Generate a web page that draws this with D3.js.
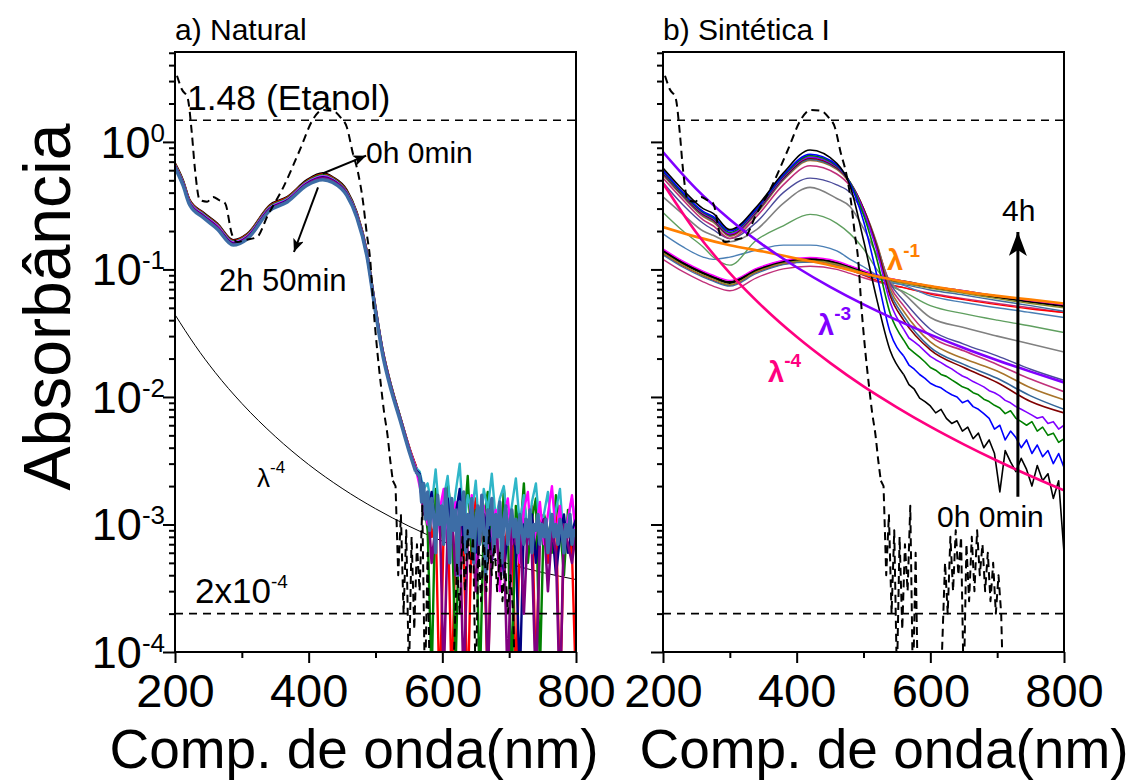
<!DOCTYPE html>
<html>
<head>
<meta charset="utf-8">
<script src="https://cdn.jsdelivr.net/npm/d3@7"></script>
<style>
  body { margin: 0; background: #fff; }
  text { font-family: "Liberation Sans", Arial, sans-serif; fill: #000; }
</style>
</head>
<body>
<svg width="1136" height="783"></svg>
<script>
// ---------- data ----------
const xDomain = [200, 800]
const yDomain = [1e-4, 5.07]
const xMajor = [200, 400, 600, 800]
const xMinor = [300, 500, 700]
const yMajorExp = [0, -1, -2, -3, -4]
const refLevels = [1.48, 2e-4]

// dashed reference spectrum (same in both panels)
const refLambda = [203, 210, 219, 225, 230, 237, 248, 257, 266, 275, 285, 293, 305, 323, 338, 362, 387, 406, 421, 436, 448, 457, 466, 474, 481, 487, 492, 497, 503, 508, 513, 518, 522, 526]
const refAbs = [3.3, 2.6, 2.2, 1.2, 0.60, 0.35, 0.34, 0.37, 0.35, 0.33, 0.19, 0.164, 0.17, 0.18, 0.26, 0.44, 0.87, 1.49, 1.78, 1.76, 1.55, 1.31, 0.82, 0.57, 0.35, 0.19, 0.12, 0.05, 0.022, 0.0125, 0.0075, 0.005, 0.0032, 0.0022]
const refNoiseLambda = d3.range(530, 711, 4)
const refNoiseAbs = [.0020, .0004, .0012, .0002, .0009, .00006, .0008, .00015, .0007, .0003,
  .0014, .00005, .0006, .00003, .00003, .00003, .00003, .00003, .00003, .00003,
  .00003, .00003, .00012, .0005, .0002, .0008, .0003, .0009, .0004, .0008,
  .00005, .0007, .00025, .0008, .0003, .0009, .0004, .0007, .0003, .0006,
  .00025, .0005, .0002, .0004, .0002, .00003]

// panel a: Natural
const aLambdaUV = [200, 212, 222, 242, 263, 287, 308, 342, 368, 397, 421, 436, 457, 472, 487, 499, 511, 524, 537, 552, 560]
const aLambdaTail = d3.range(566, 801, 6)
const aLambdaTailFine = d3.range(566, 801, 3)
const aBlackUV = [0.68, 0.50, 0.35, 0.28, 0.23, 0.170, 0.190, 0.32, 0.37, 0.50, 0.57, 0.53, 0.42, 0.28, 0.140, 0.055, 0.023, 0.0120, 0.0070, 0.0038, 0.0029]
const aRedUV = [0.67, 0.49, 0.345, 0.275, 0.226, 0.167, 0.187, 0.315, 0.365, 0.49, 0.555, 0.52, 0.41, 0.275, 0.138, 0.054, 0.0228, 0.0118, 0.0069, 0.0038, 0.0029]
const aGreenUV = [0.66, 0.485, 0.34, 0.272, 0.223, 0.165, 0.185, 0.31, 0.36, 0.485, 0.548, 0.515, 0.405, 0.272, 0.136, 0.0535, 0.0226, 0.0117, 0.0069, 0.0037, 0.0028]
const aCyanUV = [0.655, 0.48, 0.337, 0.27, 0.221, 0.164, 0.183, 0.307, 0.356, 0.48, 0.54, 0.51, 0.40, 0.27, 0.135, 0.053, 0.0224, 0.0116, 0.0068, 0.0037, 0.0028]
const aMagentaUV = [0.65, 0.475, 0.334, 0.267, 0.219, 0.162, 0.181, 0.303, 0.352, 0.475, 0.535, 0.505, 0.397, 0.267, 0.134, 0.0525, 0.0222, 0.0115, 0.0068, 0.0037, 0.0028]
const aNavyUV = [0.645, 0.47, 0.33, 0.264, 0.216, 0.160, 0.179, 0.30, 0.348, 0.47, 0.528, 0.50, 0.393, 0.264, 0.132, 0.052, 0.022, 0.0114, 0.0067, 0.0036, 0.0027]
const aPurpleUV = [0.64, 0.465, 0.327, 0.261, 0.214, 0.158, 0.177, 0.296, 0.344, 0.465, 0.52, 0.495, 0.389, 0.261, 0.131, 0.0515, 0.0218, 0.0113, 0.0067, 0.0036, 0.0027]
const aSteelUV = [0.63, 0.455, 0.32, 0.255, 0.208, 0.155, 0.173, 0.29, 0.338, 0.455, 0.505, 0.48, 0.38, 0.255, 0.128, 0.050, 0.021, 0.011, 0.0065, 0.0035, 0.0026]

const aBlackTail = [.0023, .0017, .0013, .0016, .0010, .0012, .0008, .0014, .0009, .0011, .0006, .0013, .0009, .0007, .0012, .0008, .0010, .0005, .0011, .0008, .0012, .0006, .0009, .0010, .0005, .0011, .0007, .0009, .0012, .0006, .0008, .0010, .0007, .0011, .0005, .0009, .0008, .0010, .0006, .0009]
const aRedTail = [.0022, .0013, .0017, .0008, .0011, .00004, .0009, .0014, .00005, .0008, .0012, .0006, .00004, .0010, .0016, .0007, .0009, .00005, .0012, .0008, .0015, .0006, .0010, .0013, .00005, .0009, .0011, .0007, .0014, .00006, .0010, .0012, .0005, .0009, .0013, .00004, .0008, .0010, .0006, .00005]
const aGreenTail = [.0024, .0016, .0009, .00006, .0019, .0011, .0007, .0021, .0012, .00008, .0015, .0009, .0024, .0006, .0013, .00005, .0011, .0018, .0007, .0012, .0004, .0019, .0009, .00006, .0014, .0008, .0021, .0005, .0011, .0016, .00007, .0012, .0009, .0006, .0017, .0010, .0004, .0013, .0007, .0011]
const aCyanTail = [.0026, .0019, .0021, .0014, .0027, .0011, .0016, .0024, .0010, .0018, .0030, .0009, .0017, .0012, .0022, .0008, .0019, .0013, .0025, .0011, .0016, .0020, .0009, .0014, .0023, .0010, .0017, .0007, .0015, .0021, .0009, .0012, .0018, .0008, .0013, .0019, .0007, .0011, .0016, .0009]
const aMagentaTail = [.0020, .0014, .0010, .0016, .0007, .0013, .0019, .0006, .0011, .0015, .0004, .0012, .0008, .0017, .0005, .0010, .0014, .0006, .0009, .0013, .0003, .0011, .0016, .0007, .0010, .0005, .0013, .0018, .0006, .0009, .0015, .0007, .0012, .0020, .0008, .0014, .0006, .0011, .0017, .0008]
const aNavyTail = [.0025, .0017, .0012, .0018, .0009, .0014, .0011, .0016, .0008, .0012, .0019, .0007, .0010, .0014, .0006, .0011, .0009, .0013, .0005, .0010, .0012, .0004, .0009, .0011, .0006, .00006, .0010, .0008, .0012, .0005, .0009, .0011, .0007, .0010, .0004, .0008, .0012, .0006, .0009, .0011]
const aPurpleTail = [.0023, .0012, .0015, .0005, .0010, .0013, .00006, .0009, .0012, .0004, .0010, .00005, .0008, .0011, .0003, .0009, .0012, .00006, .0007, .0010, .0004, .0008, .00005, .0011, .0007, .0009, .0002, .0010, .0006, .00005, .0008, .0011, .0003, .0009, .0006, .00004, .0010, .0007, .0005, .0009]
const aSteelTail = [.0024, .0015, .0021, .0011, .0018, .0009, .0016, .0012, .0006, .0017, .0010, .0014,
  .0007, .0019, .0011, .0005, .0016, .0009, .0013, .0004, .0015, .0010, .0018, .0006, .0012, .0008, .0016, .0005, .0011,
  .0014, .0007, .0017, .0009, .0004, .0013, .0010, .0016, .0006, .0012, .0008, .0015, .0005, .0011, .0014, .0007, .0010, .0013,
  .0008, .0011, .0006, .0012, .0009, .0007, .0011, .0008, .0013, .0006, .0010, .0009, .0012, .0007, .0010, .0008,
  .0011, .0006, .0009, .0012, .0008, .0010, .0007, .0011, .0009, .0006, .0010, .0008, .0012, .0007, .0009, .0008]

// thin lambda^-4 guide in panel a
const aFitLambda = [200, 230, 260, 300, 350, 400, 450, 500, 550, 600, 650, 700, 750, 800]
const aFitAbs = [0.0442, 0.0254, 0.0156, 0.0089, 0.0049, 0.00295, 0.00192, 0.00133, 0.00097, 0.00074, 0.00059, 0.00049, 0.00042, 0.00037]

// panel b: Sintetica I
const bLambdaUV = [200, 230, 260, 275, 300, 340, 380, 420, 460, 480, 500, 520, 540, 560]
const bLambdaTailSmooth = [600, 650, 700, 750, 800]
const bLambdaTailNoisy = d3.range(568, 801, 8)

const b0hUV = [0.625, 0.42, 0.30, 0.275, 0.205, 0.31, 0.57, 0.865, 0.68, 0.45, 0.17, 0.058, 0.023, 0.015]
const b0hTail = [0.0125, 0.0115, 0.0098, 0.0092, 0.0085, 0.0075, 0.0080, 0.0068, 0.0062, 0.0065, 0.0054, 0.0058, 0.0047, 0.0052, 0.0040, 0.0046, 0.0036, 0.0018, 0.0038, 0.0031, 0.0026, 0.0033, 0.0027, 0.0020, 0.0029, 0.0022, 0.0025, 0.0016, 0.0022, 0.0006]
const bBlueUV = [0.60, 0.40, 0.285, 0.26, 0.20, 0.30, 0.55, 0.80, 0.66, 0.47, 0.24, 0.09, 0.032, 0.021]
const bBlueTail = [0.0178, 0.0165, 0.0150, 0.0140, 0.0128, 0.0122, 0.0118, 0.0110, 0.0104, 0.0100, 0.0090, 0.0094, 0.0084, 0.0080, 0.0074, 0.0068, 0.0056, 0.0060, 0.0046, 0.0054, 0.0048, 0.0040, 0.0046, 0.0036, 0.0042, 0.0034, 0.0038, 0.0030, 0.0036, 0.0028]
const bGreenUV = [0.59, 0.39, 0.28, 0.255, 0.195, 0.295, 0.54, 0.78, 0.65, 0.48, 0.27, 0.12, 0.045, 0.028]
const bGreenTail = [0.0240, 0.0222, 0.0205, 0.0188, 0.0170, 0.0162, 0.0150, 0.0145, 0.0136, 0.0128, 0.0120, 0.0116, 0.0108, 0.0104, 0.0096, 0.0092, 0.0086, 0.0082, 0.0074, 0.0078, 0.0068, 0.0064, 0.0060, 0.0064, 0.0054, 0.0058, 0.0050, 0.0052, 0.0044, 0.0047]
const bVioletUV = [0.58, 0.385, 0.275, 0.25, 0.19, 0.29, 0.53, 0.76, 0.64, 0.48, 0.29, 0.14, 0.055, 0.034]
const bVioletTail = [0.0290, 0.0270, 0.0250, 0.0228, 0.0208, 0.0196, 0.0186, 0.0175, 0.0166, 0.0155, 0.0146, 0.0140, 0.0132, 0.0126, 0.0120, 0.0112, 0.0108, 0.0102, 0.0094, 0.0090, 0.0084, 0.0080, 0.0076, 0.0072, 0.0068, 0.0070, 0.0062, 0.0064, 0.0056, 0.0060]
const bMaroonUV = [0.57, 0.38, 0.27, 0.245, 0.187, 0.285, 0.52, 0.745, 0.63, 0.48, 0.30, 0.15, 0.062, 0.040]
const bMaroonTail = [0.0234, 0.017, 0.013, 0.0092, 0.0075]
const bSteelUV = [0.56, 0.375, 0.265, 0.24, 0.185, 0.28, 0.51, 0.73, 0.62, 0.48, 0.30, 0.155, 0.066, 0.043]
const bSteelTail = [0.0245, 0.018, 0.014, 0.0102, 0.0080]
const bBrownUV = [0.55, 0.37, 0.26, 0.235, 0.182, 0.275, 0.50, 0.715, 0.61, 0.47, 0.30, 0.16, 0.07, 0.047]
const bBrownTail = [0.027, 0.020, 0.016, 0.0118, 0.0095]
const bRoseUV = [0.52, 0.35, 0.245, 0.22, 0.175, 0.26, 0.46, 0.65, 0.56, 0.45, 0.29, 0.155, 0.074, 0.052]
const bRoseTail = [0.030, 0.023, 0.018, 0.0138, 0.011]
const bSlateUV = [0.48, 0.32, 0.23, 0.205, 0.175, 0.235, 0.40, 0.52, 0.46, 0.40, 0.27, 0.15, 0.078, 0.057]
const bSlateTail = [0.034, 0.026, 0.021, 0.0165, 0.0135]
const bGrayUV = [0.37, 0.27, 0.20, 0.185, 0.165, 0.205, 0.33, 0.44, 0.36, 0.31, 0.21, 0.13, 0.08, 0.065]
const bGrayTail = [0.042, 0.035, 0.030, 0.026, 0.0225]
const bSageUV = [0.28, 0.20, 0.15, 0.125, 0.108, 0.17, 0.22, 0.27, 0.23, 0.19, 0.145, 0.10, 0.075, 0.067]
const bSageTail = [0.052, 0.045, 0.040, 0.036, 0.032]
const bSteel2UV = [0.19, 0.15, 0.125, 0.12, 0.125, 0.142, 0.155, 0.155, 0.14, 0.12, 0.105, 0.09, 0.08, 0.075]
const bSteel2Tail = [0.062, 0.055, 0.05, 0.046, 0.042]
const bRose4hUV = [0.12, 0.096, 0.08, 0.074, 0.068, 0.086, 0.101, 0.106, 0.10, 0.093, 0.086, 0.080, 0.075, 0.072]
const bRose4hTail = [0.065, 0.059, 0.054, 0.050, 0.046]
const bRed4hUV = [0.133, 0.106, 0.089, 0.082, 0.075, 0.095, 0.11, 0.115, 0.108, 0.099, 0.09, 0.082, 0.076, 0.072]
const bRed4hTail = [0.064, 0.058, 0.053, 0.049, 0.046]
const bSteel4hUV = [0.13, 0.104, 0.087, 0.081, 0.074, 0.093, 0.109, 0.114, 0.107, 0.099, 0.091, 0.085, 0.079, 0.076]
const bSteel4hTail = [0.069, 0.063, 0.057, 0.052, 0.047]
const bOlive4hUV = [0.135, 0.108, 0.09, 0.084, 0.076, 0.096, 0.112, 0.117, 0.11, 0.102, 0.094, 0.087, 0.081, 0.078]
const bOlive4hTail = [0.071, 0.065, 0.059, 0.054, 0.050]
const bMagenta4hUV = [0.145, 0.116, 0.097, 0.09, 0.082, 0.102, 0.118, 0.124, 0.116, 0.107, 0.098, 0.091, 0.085, 0.081]
const bMagenta4hTail = [0.074, 0.068, 0.062, 0.057, 0.053]
const bBlack4hUV = [0.14, 0.112, 0.094, 0.087, 0.079, 0.099, 0.115, 0.12, 0.112, 0.104, 0.096, 0.089, 0.083, 0.080]
const bBlack4hTail = [0.073, 0.067, 0.061, 0.056, 0.052]

const bFitLambda = [200, 250, 300, 350, 400, 450, 500, 550, 600, 650, 700, 750, 800]
const bFitL1 = [0.215, 0.18, 0.155, 0.138, 0.122, 0.108, 0.093, 0.082, 0.074, 0.067, 0.062, 0.058, 0.054]
const bFitL3 = [0.832, 0.426, 0.2465, 0.155, 0.104, 0.073, 0.0532, 0.040, 0.0308, 0.0242, 0.0194, 0.0158, 0.013]
const bFitL4 = [0.474, 0.194, 0.0936, 0.0505, 0.0296, 0.0185, 0.0121, 0.0083, 0.00585, 0.00425, 0.00316, 0.0024, 0.00185]

// ---------- layout ----------
const plotTop = 52, plotBottom = 652
const svg = d3.select('svg')
const y = d3.scaleLog().domain(yDomain).range([plotBottom, plotTop])

const pair = (ls, vs) => ls.map((l, i) => [l, vs[i]])

function makePanel(id, left, right) {
  const x = d3.scaleLinear().domain(xDomain).range([left, right])
  svg.append('clipPath').attr('id', 'clip-' + id)
    .append('rect').attr('x', left).attr('y', plotTop)
    .attr('width', right - left).attr('height', plotBottom - plotTop)
  const plot = svg.append('g').attr('clip-path', 'url(#clip-' + id + ')')
  const smooth = d3.line().x(d => x(d[0])).y(d => y(d[1])).curve(d3.curveMonotoneX)
  const jagged = d3.line().x(d => x(d[0])).y(d => y(d[1]))
  return { id, left, right, x, plot, smooth, jagged }
}

function drawPath(p, d, color, w, dash) {
  p.plot.append('path')
    .attr('d', d)
    .attr('fill', 'none')
    .attr('stroke', color)
    .attr('stroke-width', w)
    .attr('stroke-linejoin', 'round')
    .attr('stroke-dasharray', dash || null)
}

// smooth UV part, then either a smooth or a noisy (straight segments) tail
function drawSpectrum(p, lu, vu, lt, vt, noisy, color, w, dash) {
  const uv = pair(lu, vu), tail = pair(lt, vt)
  if (noisy) {
    drawPath(p, p.smooth(uv), color, w, dash)
    drawPath(p, p.jagged([uv[uv.length - 1]].concat(tail)), color, w, dash)
  } else {
    drawPath(p, p.smooth(uv.concat(tail)), color, w, dash)
  }
}

function drawRefLines(p) {
  refLevels.forEach(v => {
    p.plot.append('line')
      .attr('x1', p.left).attr('x2', p.right)
      .attr('y1', y(v)).attr('y2', y(v))
      .attr('stroke', '#000').attr('stroke-width', 1.6)
      .attr('stroke-dasharray', '8,6')
  })
  drawSpectrum(p, refLambda, refAbs, refNoiseLambda, refNoiseAbs, true, '#000', 2, '8,5')
}

function drawAxes(p, withLabels) {
  const yMinor = []
  yMajorExp.forEach(e => {
    for (let m = 2; m <= 9; m++) {
      const v = m * Math.pow(10, e)
      if (v <= yDomain[1]) yMinor.push(v)
    }
  })
  const ax = svg.append('g')
  ax.append('g').attr('transform', 'translate(0,' + plotBottom + ')')
    .call(d3.axisBottom(p.x).tickValues(xMajor).tickSize(11).tickSizeOuter(0).tickFormat(d3.format('d')))
  ax.append('g').attr('transform', 'translate(0,' + plotBottom + ')')
    .call(d3.axisBottom(p.x).tickValues(xMinor).tickSize(6).tickSizeOuter(0).tickFormat(''))
  ax.append('g').attr('transform', 'translate(' + p.left + ',0)')
    .call(d3.axisLeft(y).tickValues(yMajorExp.map(e => Math.pow(10, e))).tickSize(12).tickSizeOuter(0).tickFormat(''))
  ax.append('g').attr('transform', 'translate(' + p.left + ',0)')
    .call(d3.axisLeft(y).tickValues(yMinor).tickSize(6).tickSizeOuter(0).tickFormat(''))
  ax.selectAll('.domain').remove()
  ax.selectAll('.tick line').attr('stroke', '#000').attr('stroke-width', 2)
  ax.selectAll('.tick text')
    .attr('y', 55).attr('dy', null)
    .attr('font-size', 47).attr('font-family', '"Liberation Sans", Arial, sans-serif')
    .attr('fill', '#000')

  svg.append('rect')
    .attr('x', p.left).attr('y', plotTop)
    .attr('width', p.right - p.left).attr('height', plotBottom - plotTop)
    .attr('fill', 'none').attr('stroke', '#000').attr('stroke-width', 2)

  if (withLabels) {
    yMajorExp.forEach(e => {
      const t = svg.append('text')
        .attr('x', p.left - 10).attr('y', y(Math.pow(10, e)) + 16)
        .attr('text-anchor', 'end').attr('font-size', 45)
      t.append('tspan').text('10')
      t.append('tspan').attr('font-size', 26).attr('dy', -16).text(String(e))
    })
  }
}

function superLabel(x, yy, base, sup, size, supSize, rise, color, bold) {
  const t = svg.append('text').attr('x', x).attr('y', yy)
    .attr('font-size', size).style('fill', color)
    .attr('font-weight', bold ? 'bold' : null)
  t.append('tspan').text(base)
  t.append('tspan').attr('font-size', supSize).attr('dy', -rise).text(sup)
  return t
}

function plainLabel(x, yy, s, size, anchor) {
  return svg.append('text').attr('x', x).attr('y', yy)
    .attr('font-size', size).attr('text-anchor', anchor || 'start').text(s)
}

// arrow heads
const defs = svg.append('defs')
function arrowMarker(id, len, wid) {
  defs.append('marker').attr('id', id)
    .attr('markerUnits', 'userSpaceOnUse')
    .attr('viewBox', '0 0 ' + len + ' ' + wid)
    .attr('markerWidth', len).attr('markerHeight', wid)
    .attr('refX', len).attr('refY', wid / 2)
    .attr('orient', 'auto')
    .append('path').attr('d', 'M0,0 L' + len + ',' + (wid / 2) + ' L0,' + wid + ' L' + (len * 0.25) + ',' + (wid / 2) + ' Z')
    .attr('fill', '#000')
}
arrowMarker('headSmall', 13, 11)
arrowMarker('headBig', 24, 18)

function arrow(p, from, to, w, head) {
  svg.append('line')
    .attr('x1', p.x(from[0])).attr('y1', y(from[1]))
    .attr('x2', p.x(to[0])).attr('y2', y(to[1]))
    .attr('stroke', '#000').attr('stroke-width', w)
    .attr('marker-end', 'url(#' + head + ')')
}

// ---------- panel a ----------
const pa = makePanel('a', 175, 576)
drawPath(pa, pa.smooth(pair(aFitLambda, aFitAbs)), '#000', 1)
const aSeries = [
  [aBlackUV, aBlackTail, '#000000', 2.2],
  [aRedUV, aRedTail, '#ff0000', 2.4],
  [aGreenUV, aGreenTail, '#008000', 2.4],
  [aCyanUV, aCyanTail, '#2fb6c8', 2.4],
  [aMagentaUV, aMagentaTail, '#ff00ff', 2.4],
  [aNavyUV, aNavyTail, '#000080', 2.4],
  [aPurpleUV, aPurpleTail, '#800080', 2.6],
  [aSteelUV, aSteelTail, '#3d6da6', 3.4]
]
aSeries.forEach(s => {
  const tl = s[1].length === aLambdaTailFine.length ? aLambdaTailFine : aLambdaTail
  drawSpectrum(pa, aLambdaUV, s[0], tl, s[1], true, s[2], s[3])
})
drawRefLines(pa)
drawAxes(pa, true)

plainLabel(175, 40, 'a) Natural', 30)
plainLabel(187, 110, '1.48 (Etanol)', 35.5)
plainLabel(366, 163, '0h 0min', 30)
plainLabel(219, 291, '2h 50min', 31)
superLabel(257, 487, 'λ', '-4', 26, 17, 14, '#000', false)
superLabel(195, 603, '2x10', '-4', 35, 19, 15, '#000', false)
arrow(pa, [421, 0.565], [486, 0.78], 2, 'headSmall')
arrow(pa, [414, 0.44], [378, 0.137], 2, 'headSmall')

// ---------- panel b ----------
const pb = makePanel('b', 663, 1064)
const bSeries = [
  [bBlack4hUV, bBlack4hTail, '#000000', 3],
  [bRose4hUV, bRose4hTail, '#c0307a', 1.4],
  [bRed4hUV, bRed4hTail, '#ff0000', 1.4],
  [bSteel4hUV, bSteel4hTail, '#3f6f9f', 1.4],
  [bOlive4hUV, bOlive4hTail, '#8b8b2a', 1.4],
  [bMagenta4hUV, bMagenta4hTail, '#ff00ff', 1.4],
  [bSteel2UV, bSteel2Tail, '#4a7fb5', 1.4],
  [bSageUV, bSageTail, '#5f9f5f', 1.4],
  [bGrayUV, bGrayTail, '#808080', 1.6],
  [bSlateUV, bSlateTail, '#4b4b9b', 1.4],
  [bRoseUV, bRoseTail, '#c0307a', 1.6],
  [bBrownUV, bBrownTail, '#a8742a', 1.6],
  [bSteelUV, bSteelTail, '#336699', 1.6],
  [bMaroonUV, bMaroonTail, '#800000', 1.6],
  [bVioletUV, bVioletTail, '#8000ff', 1.6],
  [bGreenUV, bGreenTail, '#008000', 1.6],
  [bBlueUV, bBlueTail, '#0000ff', 1.6],
  [b0hUV, b0hTail, '#000000', 1.6]
]
bSeries.forEach(s => {
  const noisy = s[1].length === bLambdaTailNoisy.length
  drawSpectrum(pb, bLambdaUV, s[0], noisy ? bLambdaTailNoisy : bLambdaTailSmooth, s[1], noisy, s[2], s[3])
})
drawPath(pb, pb.smooth(pair(bFitLambda, bFitL1)), '#ff8000', 2.6)
drawPath(pb, pb.smooth(pair(bFitLambda, bFitL3)), '#8000ff', 2.6)
drawPath(pb, pb.smooth(pair(bFitLambda, bFitL4)), '#ff0080', 2.6)
drawRefLines(pb)
drawAxes(pb, false)

plainLabel(663, 40, 'b) Sintética I', 30)
superLabel(887, 270, 'λ', '-1', 29, 19, 13, '#ff8000', true)
superLabel(818, 335, 'λ', '-3', 29, 19, 15, '#8000ff', true)
superLabel(768, 382, 'λ', '-4', 29, 19, 15, '#ff0080', true)
plainLabel(1002, 221, '4h', 30)
plainLabel(937, 527, '0h 0min', 30)
arrow(pb, [731, 0.00165], [731, 0.197], 3, 'headBig')

// ---------- axis titles ----------
svg.append('text')
  .attr('transform', 'translate(70,307) rotate(-90)')
  .attr('text-anchor', 'middle').attr('font-size', 66)
  .text('Absorbância')
plainLabel(354, 768, 'Comp. de onda(nm)', 55, 'middle')
plainLabel(884, 768, 'Comp. de onda(nm)', 55, 'middle')
</script>
</body>
</html>
